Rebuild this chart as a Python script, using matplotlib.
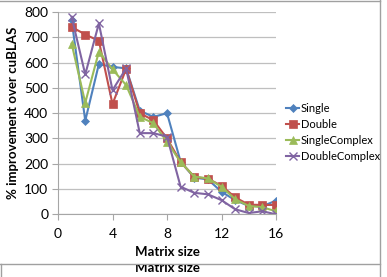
import numpy as np
import matplotlib
matplotlib.use('Agg')
import matplotlib.pyplot as plt
from matplotlib.lines import Line2D
from matplotlib.patches import Rectangle

# data
sizes = [1, 2, 3, 4, 5, 6, 7, 8, 9, 10, 11, 12, 13, 14, 15, 16]
single = [768, 370, 594, 583, 577, 410, 385, 400, 208, 145, 138, 89, 56, 33, 32, 54]
double = [741, 711, 686, 436, 575, 400, 372, 300, 207, 148, 141, 113, 67, 38, 37, 37]
single_complex = [675, 441, 643, 573, 511, 386, 360, 287, 206, 149, 142, 109, 60, 33, 28, 12]
double_complex = [781, 553, 755, 491, 577, 321, 321, 307, 109, 85, 79, 56, 20, 5, 12, 0]
names = ['Single', 'Double', 'SingleComplex', 'DoubleComplex']

plt.rcParams['font.family'] = ['Lato', 'DejaVu Sans']

fig = plt.figure(figsize=(3.87, 2.77), dpi=100)
W, H = 387, 277
ax = fig.add_axes([58 / W, 1 - 214.3 / H, (276 - 58) / W, (214.3 - 12) / H])

cols = ['#4F81BD', '#C0504D', '#9BBB59', '#8064A2']
marks = ['D', 's', '^', 'x']
msz = [4.5, 6, 6, 6]
for ys, c, m, s, n in zip([single, double, single_complex, double_complex], cols, marks, msz, names):
    ax.plot(sizes, ys, color=c, marker=m, markersize=s, lw=1.5, label=n,
            markeredgewidth=1 if m == 'x' else 0.5)

ax.set_xlim(0, 16)
ax.set_ylim(0, 800)
ax.set_xticks([0, 4, 8, 12, 16])
ax.set_yticks(np.arange(0, 801, 100))
ax.yaxis.grid(True, color='#BFBFBF', lw=0.9)
ax.set_axisbelow(True)
for sp in ['top', 'right']:
    ax.spines[sp].set_visible(False)
for sp in ['left', 'bottom']:
    ax.spines[sp].set_color('#A6A6A6')
ax.tick_params(axis='x', colors='#A6A6A6', length=4, labelcolor='black', labelsize=10, pad=6)
ax.tick_params(axis='y', colors='#A6A6A6', length=4, labelcolor='black', labelsize=10, pad=3)

ax.set_xlabel('Matrix size', fontweight='bold', fontsize=9.5, labelpad=4)
ax.set_ylabel('% improvement over cuBLAS', fontweight='bold', fontsize=9.5, labelpad=4)

leg = fig.legend(loc='upper left', bbox_to_anchor=(286 / W, 1 - 103 / H),
                 frameon=False, fontsize=8, handlelength=1.2, handletextpad=0.15, labelspacing=0.45,
                 borderaxespad=0, borderpad=0)

# chart frame pieces from the screenshot
def px_line(x0, y0, x1, y1):
    fig.add_artist(Line2D([x0 / W, x1 / W], [1 - y0 / H, 1 - y1 / H], color='#A0A0A0', lw=1,
                          transform=fig.transFigure))

px_line(0, 1, 380, 1)
px_line(380, 0, 380, 277)
px_line(0, 264, 380, 264)
px_line(1, 264, 1, 277)

# second, cut-off axis title seen at the bottom of the screenshot
clip = Rectangle((0, 0), 1, 1 - 264.5 / H, transform=fig.transFigure)
t = fig.text(167 / W, 1 - 272 / H, 'Matrix size', fontweight='bold', fontsize=9.5, ha='center', va='baseline')
t.set_clip_path(clip)

fig.savefig('out.png', dpi=100)
